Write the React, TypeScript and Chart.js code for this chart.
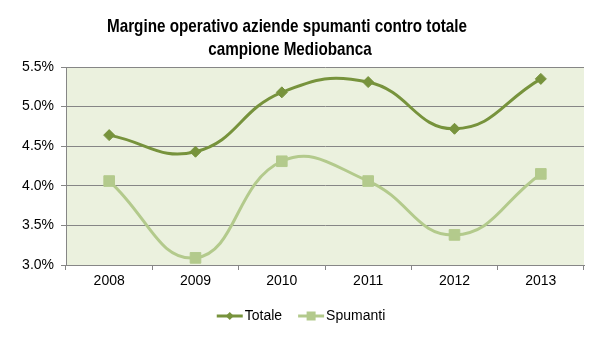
import React, { useEffect, useRef } from 'react';
import { Chart, registerables } from 'chart.js';

Chart.register(...registerables);

const categories = ['2008', '2009', '2010', '2011', '2012', '2013'];
const totale = [4.64, 4.43, 5.18, 5.31, 4.72, 5.35];
const spumanti = [4.06, 3.09, 4.31, 4.06, 3.38, 4.15];
const titleLines = ['Margine operativo aziende spumanti contro totale', 'campione Mediobanca'];
const seriesNames = ['Totale', 'Spumanti'];

const DARK = '#77933C';
const LIGHT = '#B3CA8C';
const BG = '#EBF1DE';
const GRID = '#868686';

const bgPlugin = {
  id: 'plotBg',
  beforeDraw(chart: any) {
    const { ctx, chartArea } = chart;
    ctx.save();
    ctx.fillStyle = BG;
    ctx.fillRect(chartArea.left, chartArea.top, chartArea.right - chartArea.left, chartArea.bottom - chartArea.top);
    ctx.restore();
  },
};

const titlePlugin = {
  id: 'customTitle',
  afterDraw(chart: any) {
    const { ctx } = chart;
    ctx.save();
    ctx.fillStyle = '#000';
    ctx.font = 'bold 19px "Liberation Sans", Arial, sans-serif';
    ctx.textAlign = 'center';
    ctx.textBaseline = 'middle';
    const w0 = ctx.measureText(titleLines[0]).width;
    const sx = 360 / w0;
    const cx = 287;
    ctx.translate(cx, 0);
    ctx.scale(sx, 1);
    ctx.fillText(titleLines[0], 0, 27);
    ctx.fillText(titleLines[1], 3 / sx, 50);
    ctx.restore();
  },
};

function drawMarker(ctx: CanvasRenderingContext2D, style: string, x: number, y: number, r: number, color: string) {
  ctx.fillStyle = color;
  ctx.beginPath();
  if (style === 'rectRot') {
    ctx.moveTo(x, y - r);
    ctx.lineTo(x + r, y);
    ctx.lineTo(x, y + r);
    ctx.lineTo(x - r, y);
    ctx.closePath();
  } else {
    ctx.rect(x - r, y - r, 2 * r, 2 * r);
  }
  ctx.fill();
}

const legendPlugin = {
  id: 'customLegend',
  afterDraw(chart: any) {
    const { ctx } = chart;
    const ds = chart.data.datasets;
    ctx.save();
    ctx.font = '14px "Liberation Sans", Arial, sans-serif';
    ctx.textBaseline = 'middle';
    const lineW = 26;
    const gapText = 2;
    const gapItem = 16;
    const widths = ds.map((d: any) => lineW + gapText + ctx.measureText(d.label).width);
    const total = widths.reduce((a: number, b: number) => a + b, 0) + gapItem * (ds.length - 1);
    let x = 301 - total / 2;
    const y = 316;
    ds.forEach((d: any, i: number) => {
      ctx.strokeStyle = d.borderColor;
      ctx.lineWidth = 3;
      ctx.beginPath();
      ctx.moveTo(x, y);
      ctx.lineTo(x + lineW, y);
      ctx.stroke();
      drawMarker(ctx, d.pointStyle, x + lineW / 2, y, d.pointStyle === 'rect' ? 4.5 : 4, d.borderColor);
      ctx.fillStyle = '#000';
      ctx.textAlign = 'left';
      ctx.fillText(d.label, x + lineW + gapText, y);
      x += widths[i] + gapItem;
    });
    ctx.restore();
  },
};

export default function App() {
  const ref = useRef<HTMLCanvasElement>(null);
  useEffect(() => {
    document.body.style.margin = '0';
    const chart = new Chart(ref.current as HTMLCanvasElement, {
      type: 'line',
      data: {
        labels: categories,
        datasets: [
          {
            label: seriesNames[0],
            data: totale,
            borderColor: DARK,
            backgroundColor: DARK,
            borderWidth: 3,
            pointStyle: 'rectRot',
            pointRadius: 5.5,
            pointBorderWidth: 1,
            tension: 0.45,
          },
          {
            label: seriesNames[1],
            data: spumanti,
            borderColor: LIGHT,
            backgroundColor: LIGHT,
            borderWidth: 3,
            pointStyle: 'rect',
            pointRadius: 7.5,
            pointBorderWidth: 1,
            tension: 0.45,
          },
        ],
      },
      options: {
        animation: false,
        responsive: false,
        layout: { padding: { top: 67, right: 17, bottom: 45, left: 0 } },
        plugins: {
          legend: { display: false },
          title: { display: false },
          tooltip: { enabled: false },
        },
        scales: {
          x: {
            offset: true,
            afterFit(scale: any) {
              scale.height = 28;
            },
            grid: {
              offset: true,
              drawOnChartArea: false,
              drawTicks: true,
              tickLength: 5,
              color: GRID,
            },
            border: { color: GRID, width: 1 },
            ticks: {
              color: '#000',
              font: { family: '"Liberation Sans", Arial, sans-serif', size: 14 },
              padding: 3,
            },
          },
          y: {
            min: 3,
            max: 5.5,
            afterFit(scale: any) {
              scale.width = 66;
            },
            grid: { color: GRID, tickLength: 5, drawTicks: true },
            border: { color: GRID, width: 1 },
            ticks: {
              stepSize: 0.5,
              color: '#000',
              padding: 7,
              font: { family: '"Liberation Sans", Arial, sans-serif', size: 14 },
              callback: (v: any) => Number(v).toFixed(1) + '%',
            },
          },
        },
      },
      plugins: [bgPlugin, titlePlugin, legendPlugin],
    });
    return () => chart.destroy();
  }, []);
  return (
    <div style={{ width: 601, height: 338 }}>
      <canvas ref={ref} width={601} height={338} style={{ display: 'block' }} />
    </div>
  );
}
